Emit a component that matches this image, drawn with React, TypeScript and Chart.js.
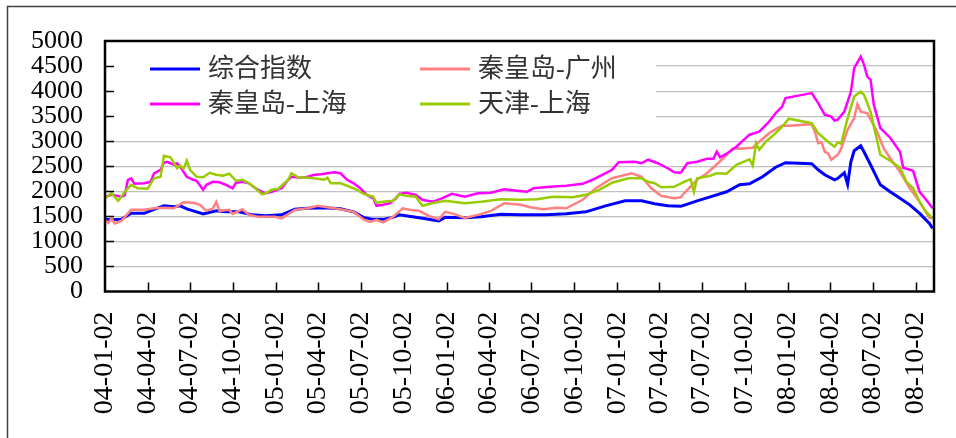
import { useEffect, useRef } from "react";
import { Chart, registerables, type Plugin } from "chart.js";

Chart.register(...registerables);

// quarter labels on the time axis (yy-mm-dd)
const tickLabels = [
  "04-01-02", "04-04-02", "04-07-02", "04-10-02",
  "05-01-02", "05-04-02", "05-07-02", "05-10-02",
  "06-01-02", "06-04-02", "06-07-02", "06-10-02",
  "07-01-02", "07-04-02", "07-07-02", "07-10-02",
  "08-01-02", "08-04-02", "08-07-02", "08-10-02",
];

// x values are weeks since 2004-01-02
const lastWeek = 253.4;

const compositeWeeks = [0, 2, 5, 8, 12, 15, 18, 21, 23, 25, 28, 30, 34, 37, 41, 45, 49, 54, 58, 62, 67, 72, 76, 79, 82, 85, 88, 90, 94, 98, 102, 104, 110, 115, 121, 127, 135, 141, 147, 153, 159, 164, 168, 172, 176, 181, 185, 190, 194, 197, 201, 205, 208, 216, 218, 220, 223, 224, 226, 227, 228, 229, 231, 232, 234, 237, 240, 243, 246, 249, 252, 253];
const compositeValues = [1440, 1430, 1440, 1560, 1560, 1640, 1710, 1690, 1710, 1650, 1590, 1550, 1610, 1590, 1590, 1530, 1510, 1530, 1640, 1660, 1670, 1650, 1590, 1480, 1440, 1440, 1480, 1530, 1490, 1450, 1410, 1480, 1470, 1490, 1540, 1530, 1530, 1550, 1590, 1710, 1810, 1810, 1750, 1710, 1700, 1810, 1890, 1990, 2130, 2150, 2290, 2480, 2570, 2550, 2430, 2330, 2230, 2260, 2370, 2140, 2590, 2810, 2910, 2790, 2530, 2130, 1990, 1860, 1730, 1560, 1360, 1260];

const qhdGuangzhouWeeks = [0, 1, 2, 3, 5, 8, 12, 15, 18, 21, 24, 27, 29, 31, 33, 34, 35, 38, 39, 42, 44, 47, 52, 54, 58, 62, 65, 68, 72, 76, 79, 81, 83, 85, 88, 91, 93, 96, 99, 102, 104, 106, 107, 110, 114, 118, 122, 127, 130, 134, 138, 141, 146, 150, 155, 161, 164, 167, 170, 174, 176, 177, 181, 184, 186, 189, 192, 194, 198, 200, 203, 205, 207, 209, 216, 217, 218, 219, 220, 221, 222, 224, 225, 227, 229, 230, 231, 233, 236, 238, 240, 243, 246, 249, 252, 253];
const qhdGuangzhouValues = [1430, 1370, 1460, 1360, 1410, 1630, 1630, 1660, 1670, 1660, 1780, 1770, 1730, 1610, 1660, 1790, 1610, 1630, 1550, 1640, 1530, 1490, 1490, 1460, 1630, 1660, 1710, 1680, 1640, 1590, 1440, 1390, 1430, 1380, 1490, 1660, 1630, 1610, 1510, 1440, 1590, 1560, 1540, 1470, 1530, 1610, 1760, 1730, 1680, 1640, 1670, 1660, 1830, 2060, 2260, 2360, 2290, 2060, 1910, 1860, 1880, 1960, 2230, 2360, 2480, 2660, 2860, 2850, 2870, 2990, 3160, 3240, 3310, 3310, 3340, 3190, 2960, 2980, 2790, 2760, 2630, 2730, 2850, 3230, 3460, 3740, 3590, 3560, 3190, 2860, 2660, 2390, 2060, 1790, 1470, 1460];

const qhdShanghaiWeeks = [0, 2, 5, 6, 7, 8, 9, 12, 14, 15, 17, 18, 19, 21, 22, 23, 25, 27, 28, 30, 31, 33, 35, 37, 39, 40, 42, 44, 46, 48, 49, 51, 54, 56, 57, 60, 62, 64, 66, 68, 70, 72, 74, 76, 78, 80, 82, 83, 85, 87, 89, 90, 92, 95, 97, 100, 103, 106, 110, 114, 118, 122, 126, 129, 131, 136, 141, 146, 149, 152, 155, 157, 162, 164, 166, 169, 172, 174, 176, 178, 181, 184, 186, 187, 188, 190, 193, 197, 200, 203, 205, 207, 208, 212, 216, 218, 220, 222, 223, 224, 226, 228, 229, 231, 232, 233, 234, 235, 237, 240, 243, 244, 247, 249, 251, 253];
const qhdShanghaiValues = [1890, 1930, 1890, 1920, 2230, 2260, 2150, 2160, 2190, 2360, 2430, 2570, 2590, 2530, 2560, 2490, 2290, 2230, 2210, 2030, 2130, 2190, 2180, 2130, 2060, 2170, 2190, 2160, 2060, 1990, 1960, 1990, 2060, 2230, 2290, 2270, 2290, 2330, 2340, 2360, 2380, 2360, 2230, 2160, 2060, 1930, 1860, 1710, 1730, 1760, 1860, 1950, 1970, 1930, 1830, 1790, 1860, 1950, 1890, 1960, 1970, 2040, 2010, 1990, 2060, 2090, 2110, 2150, 2230, 2330, 2430, 2580, 2590, 2560, 2630, 2560, 2460, 2380, 2370, 2560, 2590, 2650, 2650, 2790, 2680, 2750, 2890, 3130, 3190, 3390, 3560, 3690, 3860, 3910, 3960, 3760, 3530, 3490, 3410, 3430, 3590, 3990, 4460, 4690, 4530, 4290, 4230, 3730, 3260, 3070, 2790, 2470, 2410, 1990, 1830, 1660];

const tianjinShanghaiWeeks = [0, 2, 4, 5, 6, 8, 10, 13, 15, 17, 18, 20, 22, 23, 24, 25, 26, 28, 30, 32, 34, 36, 38, 40, 42, 44, 46, 48, 49, 51, 53, 56, 57, 59, 62, 65, 67, 68, 69, 72, 74, 77, 79, 82, 83, 85, 88, 90, 92, 95, 97, 100, 104, 110, 115, 121, 127, 132, 137, 143, 147, 151, 155, 160, 164, 166, 168, 170, 174, 177, 179, 180, 181, 185, 187, 190, 193, 197, 198, 199, 200, 202, 205, 207, 209, 216, 218, 221, 223, 224, 225, 227, 229, 231, 232, 234, 237, 240, 243, 245, 247, 249, 251, 253];
const tianjinShanghaiValues = [1860, 1960, 1810, 1890, 1990, 2130, 2060, 2050, 2260, 2290, 2710, 2680, 2460, 2510, 2450, 2610, 2430, 2290, 2280, 2370, 2330, 2310, 2350, 2210, 2230, 2160, 2060, 1940, 1960, 2030, 2050, 2230, 2360, 2280, 2270, 2250, 2230, 2270, 2160, 2160, 2110, 2030, 1950, 1890, 1770, 1790, 1810, 1940, 1910, 1890, 1710, 1760, 1810, 1760, 1790, 1840, 1830, 1840, 1890, 1880, 1930, 2030, 2170, 2260, 2260, 2190, 2160, 2080, 2090, 2190, 2240, 1990, 2260, 2310, 2360, 2350, 2530, 2640, 2510, 2960, 2830, 2990, 3160, 3290, 3450, 3360, 3160, 2990, 2890, 2980, 2950, 3460, 3890, 3990, 3930, 3590, 2730, 2610, 2470, 2190, 2060, 1790, 1590, 1460];

const seriesNames = ["综合指数", "秦皇岛-广州", "秦皇岛-上海", "天津-上海"];
const seriesColors = ["#0000ff", "#ff8080", "#ff00ff", "#99cc00"];

const START = Date.UTC(2004, 0, 2);
const labelToWeek = (label: string) => {
  const [yy, mm, dd] = label.split("-").map(Number);
  return (Date.UTC(2000 + yy, mm - 1, dd) - START) / (7 * 86400000);
};
const tickWeeks = tickLabels.map(labelToWeek);

const toPoints = (weeks: number[], values: number[]) =>
  weeks.map((x, i) => ({ x, y: values[i] }));

const TICK_FONT = "'Liberation Serif', 'DejaVu Serif', serif";
const LEGEND_FONT = "'Liberation Serif', 'Noto Sans CJK SC', sans-serif";

// legend box inside the plot, top left, 2 x 2
const boxLegend: Plugin<"line"> = {
  id: "boxLegend",
  beforeDatasetsDraw(chart) {
    const { ctx, chartArea } = chart;
    const { left, top } = chartArea;
    ctx.save();
    ctx.fillStyle = "#ffffff";
    ctx.fillRect(left, top, 551, 86);
    const cols = [left + 45, left + 315];
    const rows = [top + 28, top + 63];
    ctx.font = `26px ${LEGEND_FONT}`;
    ctx.textBaseline = "middle";
    ctx.textAlign = "left";
    chart.data.datasets.forEach((ds, i) => {
      const x = cols[i % 2];
      const y = rows[Math.floor(i / 2)];
      ctx.strokeStyle = ds.borderColor as string;
      ctx.lineWidth = 3;
      ctx.beginPath();
      ctx.moveTo(x, y);
      ctx.lineTo(x + 50, y);
      ctx.stroke();
      ctx.fillStyle = "#333333";
      ctx.fillText(ds.label ?? "", x + 58, y + 1);
    });
    ctx.restore();
  },
};

// plot border, inward tick marks and the outer frame
const frame: Plugin<"line"> = {
  id: "frame",
  afterDatasetsDraw(chart) {
    const { ctx, chartArea, scales } = chart;
    const { left, right, top, bottom } = chartArea;
    ctx.save();
    ctx.strokeStyle = "#000000";
    ctx.lineWidth = 1.5;
    ctx.beginPath();
    scales.y.ticks.forEach((t) => {
      if (t.value <= 0 || t.value >= 5000) return;
      const y = Math.round(scales.y.getPixelForValue(t.value)) + 0.5;
      ctx.moveTo(left, y);
      ctx.lineTo(left + 9, y);
    });
    scales.x.ticks.forEach((t) => {
      if (t.value <= 0) return;
      const x = Math.round(scales.x.getPixelForValue(t.value)) + 0.5;
      ctx.moveTo(x, bottom);
      ctx.lineTo(x, bottom - 9);
    });
    ctx.stroke();
    ctx.lineWidth = 2.5;
    ctx.strokeRect(left, top, right - left, bottom - top);
    ctx.strokeStyle = "#404040";
    ctx.lineWidth = 1.5;
    ctx.beginPath();
    ctx.moveTo(7.5, 438);
    ctx.lineTo(7.5, 6.5);
    ctx.lineTo(956, 6.5);
    ctx.stroke();
    ctx.restore();
  },
};

export default function App() {
  const canvasRef = useRef<HTMLCanvasElement | null>(null);
  const chartRef = useRef<Chart<"line"> | null>(null);

  useEffect(() => {
    if (!canvasRef.current) return;

    const pointSets = [
      toPoints(compositeWeeks, compositeValues),
      toPoints(qhdGuangzhouWeeks, qhdGuangzhouValues),
      toPoints(qhdShanghaiWeeks, qhdShanghaiValues),
      toPoints(tianjinShanghaiWeeks, tianjinShanghaiValues),
    ];

    chartRef.current?.destroy();
    chartRef.current = new Chart(canvasRef.current, {
      type: "line",
      data: {
        datasets: pointSets.map((data, i) => ({
          label: seriesNames[i],
          data,
          borderColor: seriesColors[i],
          backgroundColor: seriesColors[i],
          borderWidth: i === 0 ? 3 : 2.5,
          pointRadius: 0,
          tension: 0,
          fill: false,
          order: 4 - i,
        })),
      },
      options: {
        animation: false,
        responsive: false,
        layout: { padding: { left: 0, top: 41, right: 22, bottom: 0 } },
        plugins: {
          legend: { display: false },
          tooltip: { enabled: false },
        },
        scales: {
          x: {
            type: "linear",
            min: 0,
            max: lastWeek,
            afterBuildTicks: (scale) => {
              scale.ticks = tickWeeks.map((value) => ({ value }));
            },
            afterFit: (scale) => {
              scale.height = 146.5;
              scale.paddingLeft = 0;
              scale.paddingRight = 0;
            },
            grid: { display: false },
            border: { display: false },
            ticks: {
              autoSkip: false,
              minRotation: 90,
              maxRotation: 90,
              padding: 12,
              color: "#000000",
              font: { family: TICK_FONT, size: 28 },
              callback: (_value, index) => tickLabels[index] ?? "",
            },
          },
          y: {
            min: 0,
            max: 5000,
            afterFit: (scale) => {
              scale.width = 105;
              scale.paddingTop = 0;
              scale.paddingBottom = 0;
            },
            grid: {
              drawTicks: false,
              lineWidth: 1.2,
              color: (ctx) =>
                ctx.tick.value === 0 || ctx.tick.value === 5000 ? "rgba(0,0,0,0)" : "#c0c0c0",
            },
            border: { display: false },
            ticks: {
              autoSkip: false,
              stepSize: 500,
              padding: 22,
              color: "#000000",
              font: { family: TICK_FONT, size: 26 },
              callback: (value) => String(value),
            },
          },
        },
      },
      plugins: [boxLegend, frame],
    });

    return () => {
      chartRef.current?.destroy();
      chartRef.current = null;
    };
  }, []);

  return (
    <div style={{ position: "fixed", left: 0, top: 0, width: 956, height: 438, background: "#ffffff" }}>
      <canvas ref={canvasRef} width={956} height={438} style={{ display: "block" }} />
    </div>
  );
}
